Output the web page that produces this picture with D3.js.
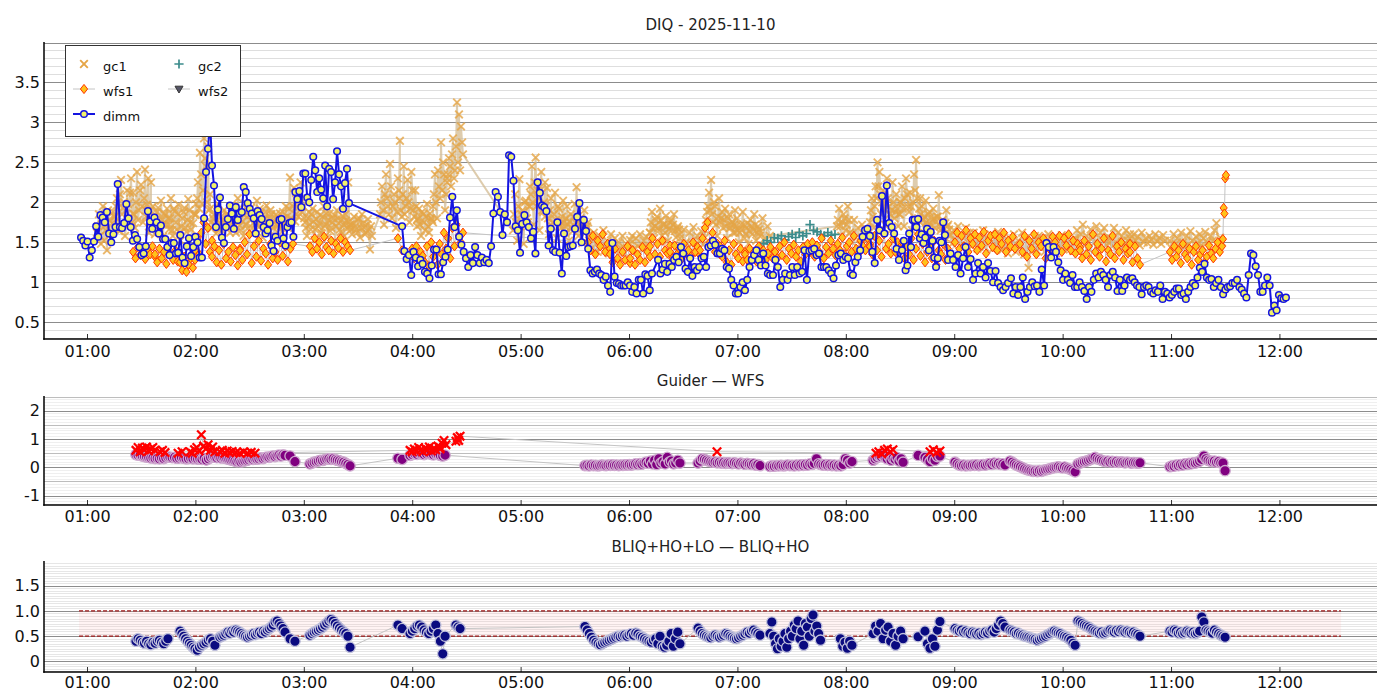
<!DOCTYPE html>
<html><head><meta charset="utf-8">
<script src="https://cdn.jsdelivr.net/npm/d3@7"></script>
<style>body{margin:0;background:#fff}svg{display:block}text{font-family:"DejaVu Sans",sans-serif}</style>
</head><body><svg id="c" width="1400" height="700"></svg>
<script>
// ---------- DATA (time = minutes after 00:00 UT, samples evenly spaced inside each run) ----------
const hourTicks = [60,120,180,240,300,360,420,480,540,600,660,720];
const hourLabels = ["01:00","02:00","03:00","04:00","05:00","06:00","07:00","08:00","09:00","10:00","11:00","12:00"];
const diqTicks = [0.5,1,1.5,2,2.5,3,3.5];
const diqTickLabels = ["0.5","1","1.5","2","2.5","3","3.5"];
const diffTicks = [-1,0,1,2];
const diffTickLabels = ["-1","0","1","2"];
const bliqTicks = [0,0.5,1.0,1.5];
const bliqTickLabels = ["0","0.5","1.0","1.5"];
const bliqBand = [0.5,1.0];
const bliqBandTime = [55.6,754.1];

const dimmSegments = [
 [56.7,124.8,[1.56,1.52,1.46,1.51,1.31,1.40,1.51,1.70,1.57,1.84,1.81,1.75,1.88,1.61,1.50,1.60,1.69,2.23,1.69,1.68,1.74,1.98,1.80,1.69,1.52,1.59,1.54,1.44,1.34,1.36,1.45,1.89,1.76,1.67,1.81,1.75,1.61,1.71,1.54,1.54,1.44,1.34,1.49,1.49,1.36,1.37,1.59,1.31,1.24,1.45,1.55,1.33,1.44,1.57,1.50,1.31,1.31,1.80]],
 [125.9,205.0,[2.38,2.67,3.05,2.46,2.21,1.69,1.91,2.06,1.56,1.49,1.69,1.79,1.96,1.86,1.67,1.94,1.78,1.86,1.88,2.19,2.13,1.99,1.92,1.86,1.80,1.61,1.89,1.84,1.79,1.69,1.61,1.65,1.74,1.46,1.39,1.57,1.52,1.78,1.79,1.55,1.46,1.69,1.74,1.75,1.57,2.13,2.04,2.14,1.94,2.36,2.36,2.06,2.00,2.28,2.57,2.40,2.13,2.30,2.16,2.05,2.46,1.95,2.42,2.38,2.04,2.25,2.64,2.35,2.20,1.92,2.24,2.42,1.99]],
 [234.4,292.5,[1.70,1.39,1.29,1.34,1.09,1.38,1.31,1.20,1.28,1.23,1.13,1.11,1.05,1.21,1.41,1.41,1.10,1.10,1.25,1.32,1.41,1.81,2.07,1.69,1.90,1.57,1.47,1.38,1.30,1.19,1.34,1.24,1.44,1.34,1.24,1.31,1.25,1.28,1.24,1.45,1.86,2.13,2.07,1.88,1.59,1.85,1.75]],
 [293.6,372.7,[2.59,2.57,2.27,1.70,1.65,1.37,1.73,1.84,1.75,1.69,1.55,1.63,1.36,2.25,2.12,1.96,1.94,1.89,1.46,1.67,1.40,1.38,1.75,1.37,1.11,1.61,1.33,1.44,1.45,1.46,1.67,1.82,1.99,1.50,1.78,1.64,1.42,1.15,1.11,1.13,1.16,1.11,1.09,1.03,1.07,0.96,0.88,1.49,1.07,0.99,0.98,0.96,0.96,0.96,1.00,0.96,0.88,0.94,0.86,1.03,1.03,0.86,1.10,1.08,0.90,1.11]],
 [376.1,438.1,[1.28,1.11,1.16,1.23,1.13,1.23,1.19,1.28,1.32,1.25,1.44,1.36,1.17,1.13,1.30,1.08,1.19,1.15,1.19,1.30,1.32,1.19,1.44,1.46,1.52,1.47,1.36,1.36,1.42,1.40,1.19,1.17,1.03,0.96,0.86,0.86,0.94,1.00,0.90,1.03,1.19,1.28,1.34,1.40,1.28,1.21,1.36,1.21,1.11,1.09]],
 [439.7,509.4,[1.09,1.28,1.19,0.94,1.03,1.11,1.03,1.09,1.19,1.09,1.19,1.11,1.13,1.40,1.03,1.39,1.40,1.42,1.34,1.36,1.19,1.19,1.19,1.15,1.11,1.05,1.21,1.34,1.36,1.28,1.32,1.30,1.11,1.09,1.25,1.32,1.40,1.57,1.65,1.67,1.58,1.38,1.24,1.78,1.65,2.08,1.61,2.21,1.74,1.69,1.61,1.42,1.28]],
 [511.1,534.9,[1.40,1.52,1.15,1.21,1.61,1.44,1.78,1.78,1.69,1.79,1.55,1.60,1.49,1.56,1.67,1.40,1.63,1.52,1.31,1.19,1.30,1.52,1.50,1.75,1.59]],
 [536.6,569.8,[1.28,1.36,1.28,1.19,1.34,1.11,1.30,1.44,1.19,1.29,1.03,1.11,1.24,1.11,1.19,1.06,1.24,1.14,1.00,1.14,0.99,0.94,0.90,0.94,0.99]],
 [571.4,635.6,[1.05,0.86,0.94,0.84,0.94,1.06,0.79,0.88,0.94,1.00,0.95,0.96,0.88,1.16,0.96,1.49,1.44,1.31,1.44,1.38,1.25,1.15,1.03,1.11,1.03,0.99,1.09,0.94,0.94,1.00,0.94,0.89,0.79,0.94,0.88,1.03,1.11,1.06,1.13,1.09,1.03,0.94,1.09,1.13,1.06,0.89,1.03,0.89,0.96,1.06]],
 [637.3,723.6,[1.03,1.05,1.00,0.96,0.94,0.85,0.94,0.96,0.94,0.88,0.86,0.90,0.88,0.96,0.79,0.88,0.86,0.81,0.84,0.88,0.92,0.92,0.84,0.86,0.79,0.88,0.94,0.99,0.96,1.06,1.18,1.13,1.23,1.06,1.03,1.04,0.94,0.99,1.03,0.94,0.85,0.91,0.94,0.95,0.99,0.99,1.03,0.94,0.91,0.86,0.81,1.09,1.36,1.34,1.20,1.09,0.88,0.88,0.96,1.06,0.96,0.62,0.71,0.65,0.84,0.80,0.79,0.81]]
];

const gc1Segments = [
 [65.5,75.5,[1.62,1.85,1.48,1.95,1.71,1.40,1.78,1.55,1.88,1.66]],
 [66.0,75.0,[1.70,1.58,1.80,1.52,1.65,1.90,1.60,1.74,1.82]],
 [75.5,85.5,[1.82,2.05,1.64,2.28,1.93,1.58,2.15,1.77,2.30,1.86]],
 [76.0,85.0,[1.95,1.72,2.10,1.85,2.00,1.70,1.98,2.12,1.75]],
 [85.5,95.4,[2.12,1.68,2.38,1.90,2.22,1.75,2.41,1.97,1.62,2.25]],
 [86.0,95.0,[1.85,2.00,1.78,2.15,1.95,2.05,1.82,2.30,1.90]],
 [95.4,105.4,[1.78,1.95,1.60,1.88,1.70,2.02,1.57,1.84,1.92,1.66]],
 [96.0,105.0,[1.68,1.82,1.75,1.93,1.64,1.78,1.86,1.72,1.80]],
 [105.4,120.3,[1.72,2.05,1.58,1.89,1.66,1.97,1.52,1.80,1.93,1.63,2.04,1.75,1.55,1.86,1.98]],
 [106.0,119.8,[1.80,1.65,1.92,1.75,1.85,1.62,1.70,1.88,1.68,1.78,1.90,1.66,1.74,1.84]],
 [120.3,128.1,[1.85,2.25,2.62,1.98,2.80,2.45,2.70,2.10]],
 [121.0,127.5,[2.05,1.92,2.35,2.15,2.55,2.00,1.90]],
 [128.1,140.3,[1.92,1.68,1.85,1.61,1.98,1.74,1.65,1.90,1.70,1.83,1.62,1.95]],
 [128.6,139.8,[1.75,1.80,1.72,1.88,1.66,1.82,1.78,1.75,1.86,1.70,1.80]],
 [140.3,165.7,[1.78,1.95,1.62,2.05,1.71,1.88,1.58,1.99,1.67,1.84,1.93,1.60,1.76,2.02,1.69,1.87,1.56,1.80,1.96,1.64,1.90,1.73,1.59,1.85,1.70]],
 [140.8,165.2,[1.85,1.70,1.80,1.92,1.65,1.76,1.84,1.72,1.90,1.78,1.68,1.86,1.82,1.74,1.92,1.66,1.78,1.88,1.72,1.80,1.85,1.68,1.76,1.82]],
 [165.7,175.7,[1.72,1.86,1.63,1.80,1.95,1.68,2.31,1.77,2.18,1.85]],
 [166.2,175.2,[1.78,1.70,1.88,1.74,1.82,1.92,1.80,1.95,1.76]],
 [175.7,180.7,[2.12,1.82,2.25,1.95,2.05]],
 [176.2,180.2,[1.95,2.05,1.88,1.80]],
 [180.7,205.6,[1.75,1.58,1.88,1.66,1.92,1.53,1.79,1.70,1.84,1.61,1.95,1.72,1.56,1.86,1.68,1.80,1.52,1.90,1.74,1.63,1.83,1.58,1.77,2.25,1.69]],
 [181.2,205.1,[1.68,1.80,1.72,1.85,1.76,1.66,1.88,1.74,1.62,1.82,1.70,1.86,1.78,1.64,1.75,1.84,1.70,1.80,1.66,1.78,1.72,1.85,1.68,1.76]],
 [205.6,217.7,[1.72,1.60,1.82,1.66,1.78,1.56,1.85,1.69,1.62,1.79,1.41,1.58]],
 [206.1,217.2,[1.66,1.74,1.70,1.62,1.80,1.68,1.74,1.60,1.72,1.66,1.70]],
 [222.2,233.2,[1.85,2.20,1.72,2.35,1.95,2.48,1.80,2.10,1.68,2.30,2.77]],
 [222.7,232.7,[2.00,1.90,2.10,2.05,1.85,2.20,1.95,2.00,1.88,2.15]],
 [233.2,242.7,[2.05,1.82,2.45,1.95,2.28,1.75,2.38,1.90,2.15,1.78]],
 [233.7,242.2,[1.90,2.10,1.85,2.05,2.00,1.92,2.15,1.82,1.95]],
 [242.7,251.5,[1.70,1.92,1.58,1.85,1.65,1.98,1.62,1.80,1.75]],
 [243.2,251.0,[1.80,1.72,1.88,1.75,1.82,1.70,1.86,1.78]],
 [251.5,259.3,[1.95,2.35,1.80,2.20,2.75,2.50,1.90,2.30]],
 [252.0,258.8,[2.10,2.00,2.40,2.05,2.15,2.35,2.10]],
 [259.3,268.1,[2.25,2.55,2.20,2.80,2.40,3.25,3.10,2.95,2.60]],
 [259.8,267.6,[2.35,2.45,2.60,2.30,2.70,2.50,2.40,2.75]],
 [295.8,305.2,[1.65,2.10,1.52,2.29,1.85,1.48,2.02,1.75,2.20]],
 [296.3,304.7,[1.85,1.75,1.95,1.70,1.90,2.00,1.80,1.95]],
 [305.2,313.5,[1.95,2.45,1.72,2.56,2.15,1.65,2.38,1.88,2.25]],
 [305.7,313.0,[2.10,2.00,2.25,1.95,2.05,2.15,1.90,2.00]],
 [313.5,324.6,[1.82,2.18,1.60,2.05,1.75,2.12,1.55,1.92,1.68,2.02,1.62]],
 [314.0,324.1,[1.95,1.80,1.90,1.70,1.85,1.78,1.95,1.72,1.82,1.75]],
 [324.6,338.4,[1.70,1.95,1.52,1.85,1.64,1.98,2.19,1.58,1.80,1.49,1.90,1.66,1.75,1.55]],
 [325.1,337.9,[1.80,1.72,1.76,1.68,1.82,1.75,1.66,1.78,1.70,1.74,1.62,1.70,1.60]],
 [338.4,360.6,[1.55,1.42,1.62,1.48,1.38,1.58,1.45,1.65,1.40,1.52,1.36,1.60,1.46,1.55,1.39,1.50,1.43,1.58,1.37,1.48,1.41,1.53]],
 [360.6,371.6,[1.48,1.58,1.42,1.55,1.45,1.60,1.41,1.52,1.57,1.44,1.62]],
 [371.6,388.2,[1.62,1.88,1.55,1.78,1.68,1.92,1.58,1.72,1.83,1.52,1.75,1.65,1.85,1.56,1.70,1.60]],
 [372.1,387.7,[1.75,1.68,1.70,1.82,1.65,1.78,1.72,1.62,1.70,1.66,1.78,1.72,1.64,1.68,1.66]],
 [388.2,402.1,[1.55,1.45,1.66,1.50,1.42,1.62,1.48,1.69,1.44,1.58,1.52,1.64,1.47,1.56]],
 [402.1,418.7,[1.65,1.88,2.12,2.28,1.75,1.95,1.58,2.05,1.80,1.68,1.92,1.55,1.85,1.72,1.62,1.90]],
 [402.6,418.2,[1.78,1.95,1.90,1.85,2.00,1.72,1.82,1.75,1.88,1.78,1.70,1.80,1.68,1.76,1.72]],
 [418.7,432.5,[1.62,1.80,1.50,1.72,1.88,1.55,1.68,1.48,1.78,1.60,1.85,1.52,1.70,1.58]],
 [419.2,432.0,[1.70,1.65,1.62,1.66,1.72,1.60,1.74,1.64,1.70,1.66,1.72,1.62,1.66]],
 [432.5,438.0,[1.62,1.80,1.55,1.70,1.58]],
 [475.1,482.3,[1.70,1.92,1.58,1.85,1.65,1.95,1.62]],
 [475.6,481.8,[1.78,1.70,1.75,1.80,1.72,1.78]],
 [482.3,493.4,[1.62,1.50,1.78,1.56,1.68,1.47,1.72,1.60,1.52,1.66,1.58]],
 [493.4,510.0,[1.75,2.05,1.68,2.20,2.50,2.38,1.85,2.15,1.72,2.30,1.95,1.65,2.25,1.80,2.10,1.70,2.00]],
 [493.9,509.5,[1.90,1.82,1.95,2.05,2.20,2.10,2.00,1.92,1.98,2.05,1.85,1.90,2.00,1.88,1.92,1.85]],
 [510.0,521.1,[1.85,2.20,1.70,2.30,1.95,2.12,1.65,2.35,2.53,1.80,2.05]],
 [510.5,520.6,[2.00,1.92,2.05,2.10,1.88,1.95,2.00,2.15,2.05,1.92]],
 [521.1,537.7,[1.75,1.95,1.62,2.02,1.70,1.88,1.58,1.92,1.68,1.82,2.09,1.65,1.78,1.56,1.90,1.72,1.60]],
 [521.6,537.2,[1.85,1.78,1.82,1.75,1.85,1.72,1.78,1.80,1.76,1.82,1.70,1.76,1.68,1.74,1.70,1.66]],
 [537.7,548.7,[1.58,1.48,1.65,1.52,1.70,1.46,1.60,1.55,1.68,1.50,1.62]],
 [548.7,565.3,[1.55,1.45,1.62,1.50,1.42,1.58,1.48,1.65,1.44,1.56,1.52,1.60,1.41,1.54,1.47,1.63,1.50]],
 [565.3,576.4,[1.50,1.40,1.58,1.45,1.36,1.55,1.42,1.60,1.38,1.52,1.46]],
 [576.4,584.7,[1.45,1.62,1.35,1.55,1.18,1.48,1.40,1.58]],
 [584.7,606.9,[1.50,1.40,1.58,1.45,1.55,1.38,1.52,1.60,1.43,1.48,1.56,1.36,1.54,1.46,1.59,1.41,1.50,1.57,1.44,1.53,1.39,1.55]],
 [606.9,626.2,[1.52,1.65,1.45,1.60,1.72,1.48,1.58,1.42,1.66,1.55,1.50,1.70,1.44,1.62,1.53,1.68,1.46,1.57,1.50]],
 [626.2,637.3,[1.55,1.45,1.68,1.50,1.62,1.42,1.58,1.48,1.65,1.52,1.60]],
 [637.3,656.7,[1.55,1.48,1.60,1.52,1.57,1.46,1.62,1.50,1.55,1.49,1.58,1.53,1.47,1.60,1.51,1.56,1.48,1.59,1.52]],
 [659.4,688.2,[1.52,1.42,1.60,1.48,1.55,1.45,1.62,1.50,1.44,1.58,1.47,1.64,1.52,1.41,1.57,1.49,1.60,1.46,1.55,1.63,1.50,1.43,1.58,1.52,1.65,1.74,1.48,1.56,1.50]]
];

const gc2Segments = [
 [432.5,474.0,[1.45,1.48,1.52,1.50,1.56,1.55,1.58,1.53,1.57,1.60,1.56,1.62,1.58,1.61,1.72,1.65,1.63,1.60,1.58,1.62,1.59,1.60]]
];

const wfs1Segments = [
 [85.5,97.6,[1.38,1.30,1.44,1.34,1.40,1.29,1.42,1.35,1.45,1.32]],
 [97.6,111.5,[1.35,1.25,1.42,1.30,1.38,1.23,1.45,1.33,1.28,1.40,1.26,1.36]],
 [111.5,119.8,[1.25,1.15,1.32,1.13,1.22,1.30,1.18,1.28]],
 [119.8,129.2,[1.40,1.55,1.35,1.62,1.75,1.48,1.68,1.38,1.52]],
 [129.2,144.7,[1.32,1.45,1.25,1.40,1.22,1.48,1.30,1.38,1.26,1.44,1.34,1.21,1.42]],
 [144.7,164.1,[1.40,1.28,1.50,1.35,1.60,1.24,1.45,1.32,1.52,1.27,1.42,1.36,1.22,1.48,1.30,1.38]],
 [164.1,174.0,[1.38,1.28,1.50,1.33,1.45,1.26,1.42,1.48]],
 [183.4,205.6,[1.45,1.38,1.55,1.42,1.50,1.35,1.57,1.44,1.40,1.52,1.36,1.48,1.43,1.55,1.38,1.50,1.45,1.40]],
 [232.1,234.4,[1.55,1.40]],
 [238.8,268.1,[1.35,1.42,1.30,1.45,1.28,1.38,1.33,1.25,1.45,1.20,1.50,1.32,1.40,1.22,1.48,1.35,1.62,1.42,1.55,1.30,1.68,1.45,1.72,1.58,1.50,1.62]],
 [337.3,349.5,[1.50,1.40,1.58,1.35,1.52,1.45,1.60,1.38,1.48,1.42]],
 [349.5,360.6,[1.35,1.25,1.42,1.30,1.22,1.38,1.28,1.45,1.24]],
 [360.6,371.6,[1.30,1.40,1.22,1.35,1.28,1.44,1.25,1.38,1.32]],
 [371.6,382.7,[1.45,1.55,1.35,1.48,1.32,1.52,1.40,1.36,1.46]],
 [382.7,399.3,[1.38,1.30,1.46,1.35,1.42,1.29,1.48,1.36,1.40,1.32,1.50,1.38,1.44,1.34]],
 [399.3,410.4,[1.40,1.55,1.68,1.75,1.50,1.62,1.38,1.48,1.35]],
 [410.4,424.2,[1.45,1.32,1.52,1.25,1.40,1.22,1.48,1.35,1.30,1.42,1.26,1.38]],
 [424.2,440.8,[1.35,1.28,1.42,1.30,1.38,1.26,1.45,1.32,1.40,1.28,1.36,1.44,1.30,1.38]],
 [440.8,460.2,[1.38,1.30,1.45,1.34,1.50,1.28,1.42,1.36,1.47,1.32,1.40,1.26,1.44,1.35,1.48,1.38]],
 [460.2,493.4,[1.40,1.50,1.32,1.46,1.38,1.55,1.30,1.44,1.36,1.52,1.42,1.34,1.48,1.40,1.56,1.35,1.45,1.50,1.38,1.58,1.42,1.36,1.52,1.45,1.40,1.55,1.48]],
 [493.4,510.0,[1.45,1.35,1.58,1.40,1.52,1.32,1.60,1.42,1.48,1.36,1.55,1.38,1.50,1.44]],
 [510.0,537.7,[1.40,1.50,1.30,1.45,1.35,1.55,1.28,1.42,1.60,1.33,1.48,1.25,1.38,1.45,1.30,1.52,1.22,1.40,1.35,1.48,1.28,1.42,1.32]],
 [540.4,573.6,[1.50,1.62,1.42,1.58,1.45,1.65,1.38,1.55,1.48,1.60,1.40,1.56,1.46,1.63,1.36,1.52,1.58,1.44,1.60,1.40,1.55,1.48,1.62,1.38,1.52,1.45,1.57,1.42]],
 [576.4,595.8,[1.48,1.38,1.58,1.32,1.52,1.42,1.60,1.35,1.50,1.45,1.55,1.30,1.48,1.40,1.57,1.44]],
 [595.8,609.6,[1.50,1.42,1.58,1.38,1.55,1.46,1.60,1.40,1.52,1.36,1.48,1.44]],
 [609.6,637.3,[1.40,1.30,1.52,1.35,1.45,1.28,1.60,1.38,1.48,1.32,1.42,1.55,1.26,1.40,1.35,1.58,1.30,1.45,1.38,1.50,1.28,1.42,1.36,1.48]],
 [637.3,642.8,[1.38,1.25,1.45,1.30,1.22]],
 [659.4,688.2,[1.38,1.28,1.45,1.32,1.40,1.24,1.48,1.35,1.30,1.42,1.22,1.38,1.45,1.28,1.35,1.40,1.25,1.32,1.46,1.36,1.30,1.42,1.50,1.38,1.45]],
 [688.7,690.4,[1.54,1.93,1.86,2.30,2.34]]
];
const wfs2Segments = [];

const guiderSegments = [
 [87.1,97.6,[0.60,0.70,0.55,0.68,0.62,0.72,0.58,0.65,0.70,0.60]],
 [100.4,103.2,[0.55,0.60,0.52]],
 [110.4,112.6,[0.50,0.55]],
 [117.0,130.8,[0.55,0.50,0.62,0.70,0.58,1.15,0.75,0.65,0.80,0.60,0.72,0.55]],
 [133.6,140.3,[0.55,0.60,0.50,0.58,0.52,0.56]],
 [142.5,153.0,[0.52,0.50,0.55,0.50,0.53,0.50]],
 [238.8,255.4,[0.60,0.55,0.65,0.58,0.70,0.62,0.55,0.68,0.60,0.72,0.58,0.66,0.62,0.75,0.65]],
 [255.4,258.7,[0.70,0.85,0.95,0.80]],
 [264.2,266.5,[0.92,1.05,0.95,1.10]],
 [408.7,408.7,[0.55]],
 [496.7,506.1,[0.50,0.55,0.48,0.60,0.65,0.55,0.62]],
 [526.6,532.1,[0.55,0.62,0.52,0.58]]
];

const wfsDiffSegments = [
 [87.1,104.8,[0.45,0.43,0.44,0.40,0.38,0.36,0.35,0.33,0.34,0.31,0.32,0.30,0.33,0.31,0.34,0.36]],
 [105.9,122.5,[0.36,0.34,0.35,0.32,0.33,0.35,0.32,0.30,0.31,0.33,0.30,0.32,0.29,0.31]],
 [122.5,130.8,[0.30,0.28,0.32,0.26,0.30,0.35,0.38,0.36]],
 [130.8,169.6,[0.36,0.34,0.37,0.33,0.35,0.32,0.30,0.28,0.26,0.25,0.22,0.20,0.22,0.19,0.21,0.23,0.25,0.27,0.30,0.28,0.31,0.29,0.30,0.33,0.31,0.34,0.36,0.35,0.38,0.40,0.38,0.41,0.43,0.40,0.44,0.42]],
 [172.4,175.1,[0.40,0.20]],
 [183.4,205.6,[0.12,0.15,0.18,0.20,0.22,0.25,0.24,0.27,0.29,0.30,0.28,0.30,0.27,0.25,0.23,0.20,0.18,0.14,0.10,0.05]],
 [232.1,234.4,[0.32,0.28]],
 [238.8,258.2,[0.42,0.45,0.48,0.46,0.50,0.47,0.45,0.48,0.50,0.46,0.44,0.47,0.45,0.42,0.40,0.43]],
 [335.6,388.2,[0.06,0.07,0.05,0.08,0.06,0.07,0.05,0.06,0.08,0.07,0.06,0.08,0.07,0.09,0.07,0.08,0.06,0.08,0.07,0.09,0.08,0.10,0.08,0.10,0.12,0.10,0.13,0.11,0.15,0.18,0.14,0.22,0.12,0.25,0.10,0.30,0.15,0.20,0.12,0.35,0.18,0.22,0.12,0.15,0.25,0.15]],
 [398.2,432.5,[0.15,0.22,0.30,0.28,0.25,0.22,0.20,0.18,0.19,0.16,0.18,0.15,0.17,0.14,0.16,0.15,0.13,0.16,0.14,0.12,0.15,0.13,0.11,0.14,0.12,0.10,0.12,0.08,0.10,0.06]],
 [438.0,483.4,[0.03,0.05,0.04,0.06,0.05,0.07,0.05,0.06,0.08,0.06,0.07,0.05,0.08,0.06,0.09,0.07,0.10,0.08,0.12,0.10,0.14,0.30,0.12,0.10,0.08,0.10,0.07,0.09,0.06,0.08,0.05,0.07,0.05,0.10,0.30,0.25,0.15,0.20]],
 [495.1,511.7,[0.25,0.30,0.35,0.40,0.38,0.42,0.35,0.30,0.38,0.25,0.32,0.28,0.35,0.22,0.30,0.18]],
 [520.0,520.0,[0.42]],
 [523.8,532.1,[0.35,0.28,0.20,0.30,0.25,0.38,0.40]],
 [540.4,568.1,[0.18,0.12,0.08,0.06,0.08,0.05,0.07,0.06,0.08,0.07,0.09,0.06,0.08,0.10,0.08,0.11,0.13,0.10,0.15,0.12,0.14,0.10,0.12,0.08]],
 [570.9,606.9,[0.22,0.18,0.12,0.08,0.05,0.02,-0.02,-0.05,-0.08,-0.10,-0.12,-0.14,-0.13,-0.15,-0.12,-0.14,-0.11,-0.09,-0.07,-0.05,-0.03,-0.01,0.00,0.02,0.00,-0.02,0.01,-0.03,-0.05,-0.08,-0.12,-0.16]],
 [608.5,642.8,[0.12,0.15,0.18,0.20,0.22,0.25,0.28,0.32,0.35,0.30,0.28,0.25,0.22,0.20,0.22,0.19,0.21,0.18,0.20,0.17,0.19,0.18,0.16,0.18,0.17,0.15,0.17,0.16,0.15,0.16]],
 [659.4,689.9,[0.02,0.05,0.04,0.08,0.06,0.10,0.08,0.12,0.10,0.14,0.12,0.16,0.15,0.18,0.22,0.28,0.40,0.30,0.25,0.22,0.20,0.22,0.18,0.20,0.16,0.15,-0.12]]
];

const bliqSegments = [
 [87.1,104.8,[0.40,0.45,0.42,0.38,0.36,0.40,0.35,0.33,0.38,0.36,0.40,0.42,0.38,0.35,0.40,0.45]],
 [111.5,119.8,[0.60,0.55,0.50,0.45,0.40,0.36,0.32,0.28,0.25]],
 [119.8,130.8,[0.25,0.22,0.28,0.32,0.35,0.38,0.42,0.45,0.40,0.32]],
 [133.6,169.6,[0.48,0.50,0.52,0.55,0.58,0.56,0.60,0.58,0.62,0.60,0.58,0.55,0.52,0.50,0.48,0.50,0.52,0.55,0.53,0.56,0.58,0.55,0.60,0.58,0.62,0.65,0.68,0.72,0.78,0.80,0.75,0.70,0.65,0.58]],
 [172.4,175.1,[0.45,0.40]],
 [183.4,205.6,[0.52,0.55,0.58,0.60,0.62,0.65,0.68,0.72,0.76,0.80,0.83,0.80,0.75,0.70,0.66,0.62,0.58,0.55,0.50,0.28]],
 [232.1,234.4,[0.72,0.65]],
 [238.8,258.2,[0.55,0.60,0.65,0.70,0.72,0.68,0.62,0.58,0.55,0.60,0.65,0.72,0.55,0.40,0.15,0.50]],
 [264.2,266.5,[0.72,0.68,0.65]],
 [335.6,388.2,[0.69,0.62,0.55,0.48,0.42,0.38,0.35,0.33,0.36,0.38,0.40,0.42,0.44,0.46,0.48,0.50,0.49,0.51,0.52,0.50,0.53,0.55,0.52,0.56,0.54,0.50,0.48,0.45,0.42,0.40,0.38,0.42,0.45,0.35,0.50,0.30,0.28,0.32,0.40,0.55,0.30,0.45,0.58,0.35]],
 [398.2,432.5,[0.66,0.60,0.55,0.52,0.50,0.48,0.47,0.50,0.52,0.50,0.48,0.50,0.52,0.55,0.53,0.50,0.48,0.46,0.45,0.47,0.50,0.52,0.55,0.58,0.56,0.60,0.62,0.58,0.55,0.52]],
 [438.0,466.0,[0.55,0.78,0.50,0.35,0.25,0.45,0.30,0.40,0.55,0.28,0.45,0.60,0.50,0.72,0.65,0.80,0.45,0.60,0.32,0.75,0.68,0.50,0.85,0.92,0.60,0.70,0.55,0.42]],
 [477.0,483.4,[0.45,0.30,0.38,0.26,0.40,0.32]],
 [495.1,511.7,[0.55,0.70,0.60,0.75,0.45,0.62,0.68,0.40,0.55,0.32,0.50,0.60,0.45]],
 [520.0,520.0,[0.49]],
 [523.8,532.1,[0.60,0.35,0.26,0.45,0.30,0.62,0.79]],
 [540.4,568.1,[0.65,0.62,0.60,0.62,0.58,0.60,0.57,0.55,0.58,0.56,0.54,0.56,0.53,0.55,0.58,0.56,0.60,0.62,0.58,0.65,0.72,0.80,0.75,0.68]],
 [570.9,606.9,[0.62,0.60,0.58,0.55,0.56,0.53,0.52,0.50,0.49,0.48,0.46,0.45,0.44,0.42,0.44,0.46,0.48,0.50,0.53,0.55,0.58,0.60,0.58,0.56,0.55,0.52,0.50,0.48,0.45,0.42,0.36,0.32]],
 [608.5,642.8,[0.80,0.78,0.75,0.72,0.70,0.68,0.65,0.62,0.60,0.58,0.56,0.58,0.55,0.57,0.60,0.62,0.60,0.58,0.61,0.59,0.62,0.60,0.58,0.60,0.58,0.56,0.58,0.55,0.53,0.50]],
 [659.4,689.9,[0.60,0.58,0.62,0.60,0.56,0.58,0.55,0.57,0.60,0.58,0.56,0.58,0.55,0.57,0.60,0.88,0.78,0.62,0.60,0.58,0.56,0.62,0.58,0.55,0.52,0.50,0.48]]
];

// ---------- DRAWING ----------
function expand(segs){
  const out=[];
  segs.forEach(([t0,t1,vals])=>{
    const n=vals.length;
    vals.forEach((v,i)=>out.push({t: n>1 ? t0+(t1-t0)*i/(n-1) : t0, v}));
  });
  return out.sort((a,b)=>a.t-b.t);
}
const dimm=expand(dimmSegments), gc1=expand(gc1Segments), gc2=expand(gc2Segments),
      wfs1=expand(wfs1Segments), wfs2=expand(wfs2Segments),
      guider=expand(guiderSegments), wfsDiff=expand(wfsDiffSegments), bliq=expand(bliqSegments);

const svg=d3.select("#c");
const X0=44, X1=1377;
const x=d3.scaleLinear().domain([36.2,774]).range([X0,X1]);

const P=[
  {top:42.5,bottom:339,dom:[0.29,4.0],title:"DIQ - 2025-11-10",ty:30,lab:18,ticks:diqTicks,labels:diqTickLabels,
   grids:[{step:0.1,c:"#dedede"},{step:0.5,c:"#8c8c8c"}]},
  {top:396.5,bottom:505,dom:[-1.33,2.5],title:"Guider \u2014 WFS",ty:386,lab:17,ticks:diffTicks,labels:diffTickLabels,
   grids:[{step:0.1,c:"#efefef"},{step:0.5,c:"#bdbdbd"},{step:1,c:"#8c8c8c"}]},
  {top:561.5,bottom:672,dom:[-0.21,1.98],title:"BLIQ+HO+LO \u2014 BLIQ+HO",ty:552,lab:16,ticks:bliqTicks,labels:bliqTickLabels,
   grids:[{step:0.05,c:"#e6e6e6"},{step:0.5,c:"#8c8c8c"}]}
];
const defs=svg.append("defs");
P.forEach((p,i)=>{
  p.y=d3.scaleLinear().domain(p.dom).range([p.bottom,p.top]);
  defs.append("clipPath").attr("id","clip"+i).append("rect")
    .attr("x",X0).attr("y",p.top-0.5).attr("width",X1-X0).attr("height",p.bottom-p.top+0.5);
  const g=svg.append("g");
  p.grids.forEach(gr=>{
    const start=Math.ceil(p.dom[0]/gr.step-1e-6), end=Math.floor(p.dom[1]/gr.step+1e-6);
    const vals=d3.range(start,end+1).map(k=>+(k*gr.step).toFixed(4));
    g.selectAll(null).data(vals).enter().append("line")
      .attr("x1",X0).attr("x2",X1).attr("y1",d=>Math.round(p.y(d))+0.5).attr("y2",d=>Math.round(p.y(d))+0.5)
      .attr("stroke",gr.c).attr("stroke-width",1);
  });
  svg.append("text").attr("x",(X0+X1)/2).attr("y",p.ty).attr("text-anchor","middle")
    .attr("font-size",15).attr("fill","#222").text(p.title);
  p.data=svg.append("g").attr("clip-path",`url(#clip${i})`);
});

const px=d=>x(d.t);
const pathX=a=>`M${-a},${-a}L${a},${a}M${-a},${a}L${a},${-a}`;
const pathPlus=a=>`M${-a},0H${a}M0,${-a}V${a}`;
const pathDiamond=(w,h)=>`M0,${-h}L${w},0L0,${h}L${-w},0Z`;
const pathTri=a=>`M${-a},${-a*0.7}L${a},${-a*0.7}L0,${a}Z`;

// ---- top panel
{
  const p=P[0], g=p.data, y=p.y;
  const line=d3.line().x(px).y(d=>y(d.v));
  g.append("path").attr("d",line(gc1)).attr("fill","none").attr("stroke","#d3bb92").attr("stroke-opacity",0.75).attr("stroke-width",2).attr("stroke-linejoin","round");
  g.selectAll(null).data(gc1).enter().append("path").attr("d",pathX(3.8))
    .attr("transform",d=>`translate(${px(d)},${y(d.v)})`).attr("stroke","#e5a546").attr("stroke-opacity",0.8).attr("stroke-width",1.9).attr("fill","none");
  g.selectAll(null).data(gc2).enter().append("path").attr("d",pathPlus(4.6))
    .attr("transform",d=>`translate(${px(d)},${y(d.v)})`).attr("stroke","#3c8c8c").attr("stroke-width",1.7).attr("fill","none");
  g.append("path").attr("d",line(wfs1)).attr("fill","none").attr("stroke","#c4c4c4").attr("stroke-width",1);
  g.selectAll(null).data(wfs1).enter().append("path").attr("d",pathDiamond(3.6,4.6))
    .attr("transform",d=>`translate(${px(d)},${y(d.v)})`).attr("fill","#ffc21a").attr("stroke","#ff3300").attr("stroke-width",1);
  if(wfs2.length){
    g.append("path").attr("d",line(wfs2)).attr("fill","none").attr("stroke","#c4c4c4").attr("stroke-width",1);
    g.selectAll(null).data(wfs2).enter().append("path").attr("d",pathTri(4))
      .attr("transform",d=>`translate(${px(d)},${y(d.v)})`).attr("fill","#555566").attr("stroke","#333");
  }
  g.append("path").attr("d",line(dimm)).attr("fill","none").attr("stroke","#1414e0").attr("stroke-width",2);
  g.selectAll(null).data(dimm).enter().append("circle").attr("cx",px).attr("cy",d=>y(d.v)).attr("r",3.3)
    .attr("fill","#f2f26a").attr("stroke","#1414e0").attr("stroke-width",1.5);
}
// ---- middle panel
{
  const p=P[1], g=p.data, y=p.y;
  const line=d3.line().x(px).y(d=>y(d.v));
  g.append("path").attr("d",line(wfsDiff)).attr("fill","none").attr("stroke","#c4c4c4").attr("stroke-width",1);
  g.append("path").attr("d",line(guider)).attr("fill","none").attr("stroke","#c4c4c4").attr("stroke-width",1);
  g.selectAll(null).data(wfsDiff).enter().append("circle").attr("cx",px).attr("cy",d=>y(d.v)).attr("r",5.2)
    .attr("fill","#800080").attr("stroke","#cfaacf").attr("stroke-width",1.3);
  g.selectAll(null).data(guider).enter().append("path").attr("d",pathX(4.2))
    .attr("transform",d=>`translate(${px(d)},${y(d.v)})`).attr("stroke","#ff0000").attr("stroke-width",2.3).attr("fill","none");
}
// ---- bottom panel
{
  const p=P[2], g=p.data, y=p.y;
  g.append("rect").attr("x",x(bliqBandTime[0])).attr("width",x(bliqBandTime[1])-x(bliqBandTime[0]))
    .attr("y",y(bliqBand[1])).attr("height",y(bliqBand[0])-y(bliqBand[1])).attr("fill","#ff9999").attr("fill-opacity",0.12);
  bliqBand.forEach(v=>g.append("line").attr("x1",x(bliqBandTime[0])).attr("x2",x(bliqBandTime[1]))
    .attr("y1",y(v)).attr("y2",y(v)).attr("stroke","#a01818").attr("stroke-width",1.2).attr("stroke-dasharray","4,2"));
  const line=d3.line().x(px).y(d=>y(d.v));
  g.append("path").attr("d",line(bliq)).attr("fill","none").attr("stroke","#c4c4c4").attr("stroke-width",1);
  g.selectAll(null).data(bliq).enter().append("circle").attr("cx",px).attr("cy",d=>y(d.v)).attr("r",5.2)
    .attr("fill","#0a0a80").attr("stroke","#c2c2dc").attr("stroke-width",1.3);
}
// ---- axes
P.forEach(p=>{
  const g=svg.append("g");
  const ax=d3.axisBottom(x).tickValues(hourTicks).tickFormat((d,i)=>hourLabels[i]).tickSize(-5).tickPadding(8);
  const ga=g.append("g").attr("transform",`translate(0,${p.bottom})`).call(ax);
  ga.select(".domain").remove();
  ga.selectAll(".tick line").attr("stroke","#333");
  ga.selectAll(".tick text").attr("font-size",16).attr("font-family","DejaVu Sans").attr("fill","#111")
    .attr("y",p.lab).attr("dy",0);
  const ay=d3.axisLeft(p.y).tickValues(p.ticks).tickFormat((d,i)=>p.labels[i]).tickSize(0).tickPadding(4);
  const gy=g.append("g").attr("transform",`translate(${X0},0)`).call(ay);
  gy.select(".domain").remove();
  gy.selectAll(".tick text").attr("font-size",16).attr("font-family","DejaVu Sans").attr("fill","#111");
  g.append("line").attr("x1",X0).attr("x2",X0).attr("y1",p.top-0.5).attr("y2",p.bottom+0.75).attr("stroke","#000").attr("stroke-width",1.5);
  g.append("line").attr("x1",X0-0.75).attr("x2",X1).attr("y1",p.bottom).attr("y2",p.bottom).attr("stroke","#000").attr("stroke-width",1.5);
});

// ---- legend
{
  const lg=svg.append("g");
  lg.append("rect").attr("x",65.5).attr("y",45.5).attr("width",175).attr("height",91).attr("fill","#fff").attr("stroke","#333").attr("stroke-width",1);
  const items=[
    {name:"gc1",cx:84,cy:64,line:null,draw:s=>s.append("path").attr("d",pathX(3.8)).attr("stroke","#e5a546").attr("stroke-width",1.9).attr("fill","none")},
    {name:"gc2",cx:179,cy:64,line:null,draw:s=>s.append("path").attr("d",pathPlus(4.6)).attr("stroke","#3c8c8c").attr("stroke-width",1.7).attr("fill","none")},
    {name:"wfs1",cx:84,cy:89,line:"#c4c4c4",draw:s=>s.append("path").attr("d",pathDiamond(3.6,4.6)).attr("fill","#ffc21a").attr("stroke","#ff3300")},
    {name:"wfs2",cx:179,cy:89,line:"#c4c4c4",draw:s=>s.append("path").attr("d",pathTri(4)).attr("fill","#555566").attr("stroke","#333")},
    {name:"dimm",cx:84,cy:114,line:"#1414e0",lw:2,draw:s=>s.append("circle").attr("r",3.3).attr("fill","#f2f26a").attr("stroke","#1414e0").attr("stroke-width",1.5)}
  ];
  items.forEach(it=>{
    if(it.line) lg.append("line").attr("x1",it.cx-11).attr("x2",it.cx+11).attr("y1",it.cy).attr("y2",it.cy).attr("stroke",it.line).attr("stroke-width",it.lw||1);
    it.draw(lg.append("g").attr("transform",`translate(${it.cx},${it.cy})`));
    lg.append("text").attr("x",it.cx+19).attr("y",it.cy+7).attr("font-size",13).attr("fill","#111").text(it.name);
  });
}
</script></body></html>
